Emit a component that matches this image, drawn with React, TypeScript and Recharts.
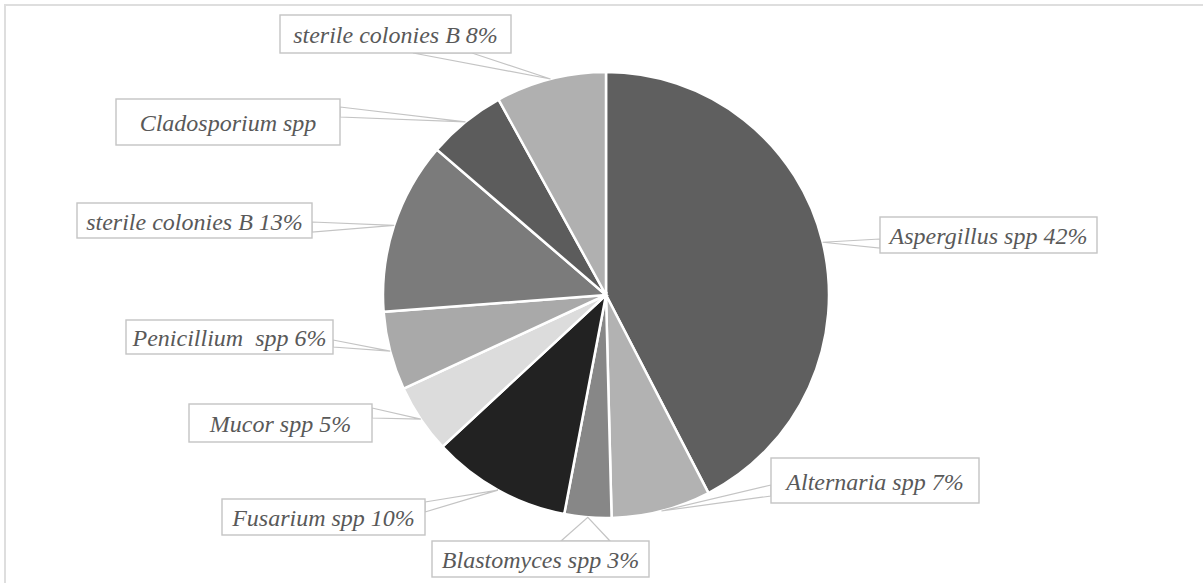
import React from 'react'
import { PieChart, Pie, Cell } from 'recharts'

// share of isolates, clockwise from 12 o'clock
const names = [
  'Aspergillus spp',
  'Alternaria spp',
  'Blastomyces spp',
  'Fusarium spp',
  'Mucor spp',
  'Penicillium spp',
  'sterile colonies B',
  'Cladosporium spp',
  'sterile colonies B',
]
const values = [42.4, 7.2, 3.4, 10.1, 5.0, 5.7, 12.5, 5.7, 8.0]
const labels = [
  'Aspergillus spp 42%',
  'Alternaria spp 7%',
  'Blastomyces spp 3%',
  'Fusarium spp 10%',
  'Mucor spp 5%',
  'Penicillium  spp 6%',
  'sterile colonies B 13%',
  'Cladosporium spp',
  'sterile colonies B 8%',
]
const colors = [
  '#5f5f5f', '#b2b2b2', '#878787', '#222222', '#dcdcdc',
  '#a9a9a9', '#7b7b7b', '#5c5c5c', '#b0b0b0',
]

// callout boxes: [x, y, w, h] and the two points where the pointer leaves the box
const boxes = [
  { r: [880, 217, 217, 36], a: [[880, 239], [880, 248]] },
  { r: [771, 458, 208, 45], a: [[771, 485], [771, 496]] },
  { r: [432, 541, 217, 36], a: [[561, 541], [610, 541]] },
  { r: [222, 499, 203, 36], a: [[425, 502], [425, 512]] },
  { r: [189, 404, 183, 38], a: [[372, 408], [372, 418]] },
  { r: [126, 320, 207, 34], a: [[333, 340], [333, 347]] },
  { r: [77, 203, 235, 35], a: [[312, 222], [312, 232]] },
  { r: [116, 99, 224, 46], a: [[340, 107], [340, 117]] },
  { r: [280, 15, 231, 38], a: [[413, 53], [472, 53]] },
]

const data = names.map((name, i) => ({ name, value: values[i] }))

const RAD = Math.PI / 180

const renderLabel = (props: any) => {
  const { cx, cy, midAngle, outerRadius, index } = props
  const px = cx + outerRadius * Math.cos(-midAngle * RAD)
  const py = cy + outerRadius * Math.sin(-midAngle * RAD)
  const b = boxes[index]
  const [x, y, w, h] = b.r
  const pts = `${b.a[0][0]},${b.a[0][1]} ${px},${py} ${b.a[1][0]},${b.a[1][1]}`
  return (
    <g key={`lbl-${index}`}>
      <polygon points={pts} fill='#fff' stroke='#c4c4c4' strokeWidth={1.2} />
      <rect x={x} y={y} width={w} height={h} fill='#fff' stroke='#c4c4c4' strokeWidth={1.4} />
      <text
        x={x + w / 2}
        y={y + h / 2 + 1}
        textAnchor='middle'
        dominantBaseline='central'
        fontFamily='Liberation Serif'
        fontStyle='italic'
        fontSize={24}
        fill='#595959'
        style={{ whiteSpace: 'pre' }}
      >
        {labels[index]}
      </text>
    </g>
  )
}

export default function App() {
  return (
    <div style={{ position: 'absolute', left: 0, top: 0, width: 1203, height: 583, overflow: 'hidden', background: '#fff' }}>
      <div
        style={{
          position: 'absolute',
          left: 4,
          top: 4,
          width: 1260,
          height: 640,
          borderTop: '2px solid #dedede',
          borderLeft: '2px solid #dedede',
        }}
      />
      <div style={{ position: 'absolute', left: 0, top: 0 }}>
        <PieChart width={1203} height={583} margin={{ top: 0, right: 0, bottom: 0, left: 0 }}>
          <Pie
            data={data}
            dataKey='value'
            cx={606}
            cy={295}
            outerRadius={223}
            startAngle={90}
            endAngle={-270}
            stroke='#fff'
            strokeWidth={2.5}
            label={renderLabel}
            labelLine={false}
            isAnimationActive={false}
          >
            {data.map((d, i) => (
              <Cell key={i} fill={colors[i]} />
            ))}
          </Pie>
        </PieChart>
      </div>
    </div>
  )
}
